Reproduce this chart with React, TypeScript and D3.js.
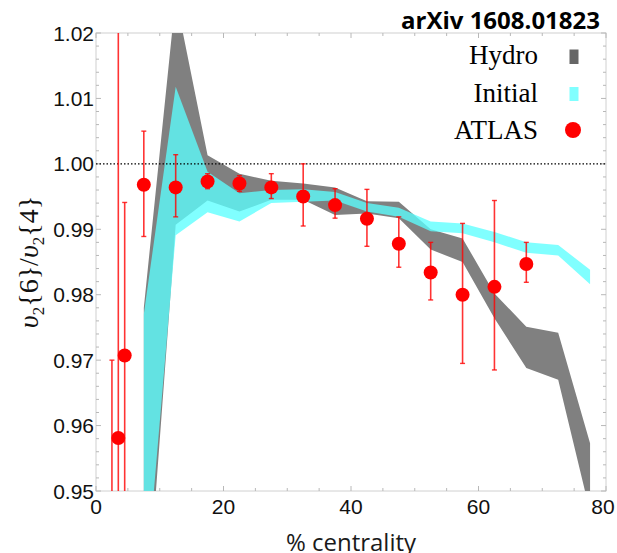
import React from "react";
import * as d3 from "d3";

const centrality = [7.5, 12.5, 17.5, 22.5, 27.5, 32.5, 37.5, 42.5, 47.5, 52.5, 57.5, 62.5, 67.5, 72.5, 77.5];
const hydroLow = [0.925, 0.9907, 0.9944, 0.9927, 0.9945, 0.9945, 0.9922, 0.9924, 0.9917, 0.9869, 0.985, 0.9764, 0.9688, 0.967, 0.9468];
const hydroHigh = [0.978, 1.0255, 1.0013, 0.9985, 0.9974, 0.997, 0.9964, 0.9943, 0.9942, 0.99, 0.9886, 0.9802, 0.9751, 0.9742, 0.9573];
const initLow = [0.932, 0.9891, 0.9926, 0.9912, 0.994, 0.9942, 0.9944, 0.9927, 0.9919, 0.9897, 0.9894, 0.988, 0.9864, 0.986, 0.9816];
const initHigh = [0.977, 1.0118, 0.9988, 0.9955, 0.996, 0.9961, 0.9957, 0.994, 0.9933, 0.9912, 0.9909, 0.9896, 0.988, 0.9876, 0.9838];

const atlasX = [2.5, 3.5, 4.5, 7.5, 12.5, 17.5, 22.5, 27.5, 32.5, 37.5, 42.5, 47.5, 52.5, 57.5, 62.5, 67.5];
const atlasY = [0.935, 0.9581, 0.9707, 0.9968, 0.9964, 0.9973, 0.997, 0.9964, 0.995, 0.9937, 0.9916, 0.9878, 0.9834, 0.98, 0.9812, 0.9847];
const atlasLo = [0.9, 0.9, 0.9, 0.9889, 0.9919, 0.9962, 0.9958, 0.9947, 0.9905, 0.9917, 0.9874, 0.9842, 0.9792, 0.9695, 0.9685, 0.9819];
const atlasHi = [0.97, 1.03, 0.9941, 1.005, 1.0014, 0.9985, 0.9982, 0.9985, 1.0, 0.9962, 0.9961, 0.9919, 0.988, 0.9909, 0.9944, 0.988];

const xTickLabels = [0, 20, 40, 60, 80];
const yTickLabels = [0.95, 0.96, 0.97, 0.98, 0.99, 1.0, 1.01, 1.02];
const legendLabels = ["Hydro", "Initial", "ATLAS"];

export default function App() {
  const W = 617, H = 553;
  const L = 96, R = 606, T = 33, B = 491;
  const x = d3.scaleLinear().domain([0, 80]).range([L, R]);
  const y = d3.scaleLinear().domain([0.95, 1.02]).range([B, T]);

  const hydroArea = d3.area<number>()
    .x((_, i) => x(centrality[i]))
    .y0((_, i) => y(hydroLow[i]))
    .y1((_, i) => y(hydroHigh[i]));
  const initArea = d3.area<number>()
    .x((_, i) => x(centrality[i]))
    .y0((_, i) => y(initLow[i]))
    .y1((_, i) => y(initHigh[i]));

  const xMinor = d3.range(0, 80.01, 5);
  const yMinor = d3.range(0, 36).map((k) => 0.95 + k * 0.002);
  const frame = "#d0d0d0";
  const tickC = "#b8b8b8";

  return (
    <svg width={W} height={H} style={{ position: "absolute", left: 0, top: 0, background: "#fff" }}>
      <defs>
        <clipPath id="plot">
          <rect x={L} y={T} width={R - L} height={B - T} />
        </clipPath>
      </defs>
      <rect x={L} y={T} width={R - L} height={B - T} fill="none" stroke={frame} strokeWidth={1} />
      {xMinor.map((v) => {
        const major = v % 20 === 0;
        const len = major ? 5 : 3;
        return (
          <g key={"xt" + v}>
            <line x1={x(v)} x2={x(v)} y1={B} y2={B - len} stroke={tickC} />
            <line x1={x(v)} x2={x(v)} y1={T} y2={T + len} stroke={tickC} />
          </g>
        );
      })}
      {yMinor.map((v, k) => {
        const major = k % 5 === 0;
        const len = major ? 5 : 3;
        return (
          <g key={"yt" + k}>
            <line x1={L} x2={L + len} y1={y(v)} y2={y(v)} stroke={tickC} />
            <line x1={R} x2={R - len} y1={y(v)} y2={y(v)} stroke={tickC} />
          </g>
        );
      })}
      <g clipPath="url(#plot)">
        <path d={hydroArea(centrality) || ""} fill="#808080" />
        <path d={initArea(centrality) || ""} fill="rgb(90,255,255)" fillOpacity={0.77} />
      </g>
      <line x1={L} x2={R} y1={y(1.0)} y2={y(1.0)} stroke="#000" strokeWidth={1.4} strokeDasharray="1.5,2" />
      <g clipPath="url(#plot)">
        {atlasX.map((cx, i) => (
          <g key={"a" + i}>
            <line x1={x(cx)} x2={x(cx)} y1={y(atlasLo[i])} y2={y(atlasHi[i])} stroke="#ff0000" strokeOpacity={0.8} strokeWidth={1.6} />
            <line x1={x(cx) - 2.5} x2={x(cx) + 2.5} y1={y(atlasLo[i])} y2={y(atlasLo[i])} stroke="#ff0000" strokeOpacity={0.8} strokeWidth={1.4} />
            <line x1={x(cx) - 2.5} x2={x(cx) + 2.5} y1={y(atlasHi[i])} y2={y(atlasHi[i])} stroke="#ff0000" strokeOpacity={0.8} strokeWidth={1.4} />
            <circle cx={x(cx)} cy={y(atlasY[i])} r={7} fill="#ff0000" />
          </g>
        ))}
      </g>
      {yTickLabels.map((v) => (
        <text key={"yl" + v} x={L - 2} y={y(v) + 7.5} textAnchor="end" fontFamily="Liberation Sans, Arial, sans-serif" fontSize={21} fill="#111">
          {v.toFixed(2)}
        </text>
      ))}
      {xTickLabels.map((v) => (
        <text key={"xl" + v} x={x(v) + (v === 80 ? -3 : 0)} y={514} textAnchor="middle" fontFamily="Liberation Sans, Arial, sans-serif" fontSize={21} fill="#111">
          {v}
        </text>
      ))}
      <text x={351} y={551} textAnchor="middle" fontFamily="Open Sans, sans-serif" fontSize={24} fill="#1a1a1a">
        % centrality
      </text>
      <text transform="translate(38,262) rotate(-90)" textAnchor="middle" fontFamily="Liberation Serif, serif" fontSize={28} fill="#111">
        <tspan fontStyle="italic">υ</tspan>
        <tspan fontSize={17} dy={6}>2</tspan>
        <tspan dy={-6}>{"{6}/"}</tspan>
        <tspan fontStyle="italic">υ</tspan>
        <tspan fontSize={17} dy={6}>2</tspan>
        <tspan dy={-6}>{"{4}"}</tspan>
      </text>
      <text x={600} y={29} textAnchor="end" fontFamily="Open Sans, sans-serif" fontWeight="bold" fontSize={24} fill="#000">
        arXiv 1608.01823
      </text>
      {legendLabels.map((lab, i) => (
        <text key={lab} x={538} y={64 + i * 37.6} textAnchor="end" fontFamily="Liberation Serif, serif" fontSize={27} fill="#000">
          {lab}
        </text>
      ))}
      <rect x={569.5} y={49.5} width={9} height={14.5} fill="#666666" />
      <rect x={569.5} y={87} width={9} height={14} fill="#80ffff" />
      <circle cx={573} cy={130} r={8} fill="#ff0000" />
    </svg>
  );
}
